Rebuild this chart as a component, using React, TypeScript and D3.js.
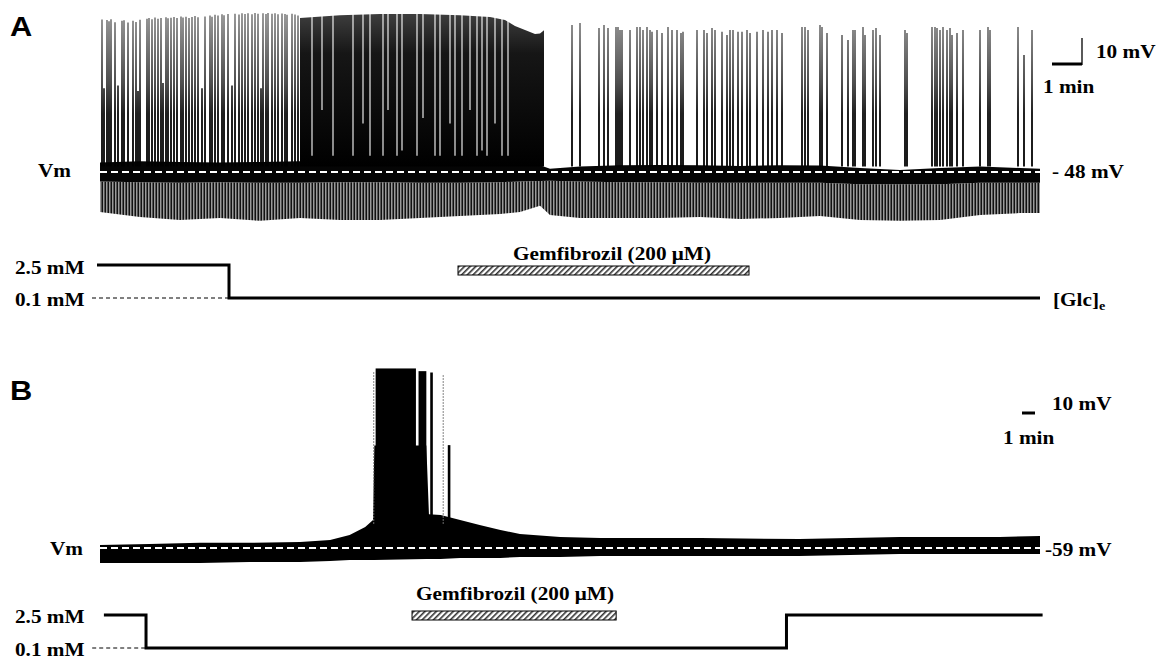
import React, { useEffect, useRef } from "react";
import * as d3 from "d3";

// ---------- panel A (time in s, membrane potential in mV) ----------
const envTimesA = [0, 80, 160, 240, 320, 400, 480, 560, 640, 720, 800, 840, 880, 900, 960, 1040, 1120, 1200, 1280, 1360, 1440, 1520, 1600, 1680, 1760, 1840, 1880];
const bandTopA = [-44.5, -44.0, -44.3, -44.5, -44.3, -44.0, -44.0, -44.0, -44.3, -44.5, -44.5, -45.0, -45.5, -46.8, -46.0, -45.5, -45.4, -45.5, -45.8, -45.5, -45.6, -46.5, -47.3, -46.5, -46.0, -46.5, -46.8];
const bandBottomA = [-51.5, -51.8, -52.0, -51.8, -52.0, -52.0, -51.8, -51.8, -52.0, -52.0, -51.8, -51.5, -51.3, -51.2, -51.5, -51.8, -51.8, -52.0, -52.0, -52.0, -52.0, -52.5, -52.5, -52.5, -52.0, -52.0, -52.0];
const lowerA = [-62.8, -64.7, -65.8, -65.0, -66.1, -65.0, -65.8, -65.8, -65.0, -64.3, -63.6, -62.8, -60.5, -63.9, -65.0, -65.0, -65.0, -64.7, -65.4, -65.0, -64.3, -65.8, -66.1, -65.8, -63.9, -63.2, -63.2];

// [time s, peak mV]
const spikesA: [number, number][] = [
  [4, 8.5], [8, -17], [14, 8.3], [18, 7.8], [22, 8.6], [30, 7.5], [36, -16], [44, 8.0], [48, 8.2], [56, 7.4],
  [66, 8.0], [72, 7.6], [76, -18], [80, 8.4], [94, 8.8], [98, 9.0], [104, 8.6], [110, 9.2], [116, 8.8], [122, 9.0],
  [126, -15], [132, 9.3], [136, 8.9], [142, 9.1], [148, 9.4], [154, 9.0], [162, 9.6], [166, 9.2], [172, 9.5], [178, 9.0],
  [184, 9.4], [190, 9.8], [196, 9.3], [204, -17], [210, 9.6], [220, 10.0], [224, 9.5], [230, 10.2], [236, 10.0], [244, 10.4],
  [248, 10.1], [256, 10.5], [264, -16], [270, 10.6], [278, 10.3], [284, 10.8], [290, 10.5], [296, 10.8], [304, 10.4], [310, 10.9],
  [316, 10.6], [322, -17], [326, 10.8], [332, 10.5], [336, 10.9], [344, 10.6], [350, 10.8], [356, 10.4], [364, 10.7], [370, 10.5],
  [374, 10.2], [384, 10.6], [390, 10.3], [396, 10.0],
  [944, 6.4], [960, 7.2], [998, 5.3], [1008, 6.4], [1016, 5.3], [1032, 5.7], [1036, 5.7], [1040, 4.6], [1044, 4.6], [1060, 4.6],
  [1074, 5.7], [1080, 5.7], [1086, 4.6], [1094, 5.7], [1100, 4.6], [1104, 3.9], [1114, 4.6], [1124, 3.5], [1136, 5.7], [1144, 4.6],
  [1154, 4.6], [1162, 3.5], [1166, 3.9], [1194, 4.6], [1208, 4.6], [1214, 3.5], [1224, 5.3], [1230, 4.6], [1244, 3.9], [1254, 2.7],
  [1260, 4.6], [1266, 4.6], [1276, 3.9], [1284, 3.9], [1294, 4.6], [1300, 3.5], [1314, 3.9], [1326, 4.6], [1336, 3.9], [1344, 4.6],
  [1354, 4.6], [1364, 3.5], [1404, 5.7], [1410, 5.7], [1416, 4.6], [1440, 6.4], [1444, 5.7], [1454, 3.5], [1484, 2.7], [1496, 0.9],
  [1506, 4.6], [1510, 4.6], [1526, 5.7], [1530, 2.7], [1546, 4.6], [1552, 5.3], [1560, 2.7], [1610, 4.6], [1614, 3.5], [1664, 5.7],
  [1670, 5.7], [1674, 5.3], [1680, 4.6], [1686, 5.7], [1694, 4.6], [1700, 5.3], [1704, 2.7], [1714, 3.5], [1726, 4.6], [1760, 4.6],
  [1776, 5.7], [1780, 4.6], [1836, 5.7], [1848, -4.7], [1864, 4.6],
];

// sustained high-frequency firing: upper envelope
const burstTimesA = [400, 480, 560, 640, 720, 780, 810, 830, 850, 870, 880, 888];
const burstTopA = [9.0, 10.1, 10.5, 10.5, 10.1, 9.4, 8.3, 6.1, 4.6, 3.1, 3.3, 4.5];
// short pauses inside the firing: [time s, lowest mV reached by the gap]
const pausesA: [number, number][] = [
  [424, -42], [444, -25], [466, -42], [506, -42], [526, -30], [540, -42], [566, -42], [576, -25], [594, -42], [604, -40],
  [634, -42], [646, -28], [670, -42], [680, -42], [700, -30], [710, -42], [724, -42], [740, -25], [754, -42], [764, -40],
  [774, -42], [790, -30], [804, -42], [816, -42],
];

const glcA: [number, number][] = [[-6, 2.5], [258, 0.1], [1880, 0.1]];
const gemA = [716, 1298];

// ---------- panel B (time in min) ----------
const envTimesB = [0, 3.8, 7.7, 11.5, 15.4, 17.7, 19.2, 20.4, 21.0, 21.1, 25.1, 25.3, 26.2, 27.7, 29.2, 30.8, 32.3, 35.4, 38.5, 46.2, 53.8, 57.7, 61.5, 69.2, 72.3];
const bandTopB = [-57.9, -57.5, -57.1, -57.1, -56.8, -56.0, -54.2, -51.2, -48.6, -21, -21, -46.5, -46.8, -48.6, -50.5, -52.3, -53.8, -54.9, -55.3, -55.3, -55.7, -55.3, -54.9, -54.9, -54.6];
const bandBottomB = [-64.6, -64.6, -64.6, -64.2, -64.2, -63.8, -63.4, -63.4, -63.4, -63.4, -63.1, -63.1, -63.1, -62.7, -62.7, -62.7, -62.3, -62.3, -62.0, -62.0, -62.0, -61.6, -61.2, -61.2, -61.2];
// [start min, end min, peak mV]
const burstsB: [number, number, number][] = [[21.2, 24.3, 7.5], [24.5, 25.1, 6.5], [25.4, 25.6, 6.0], [26.75, 26.95, -20.9]];
const faintSpikesB: [number, number][] = [[21.05, 6.2], [26.4, 5.5]];
const glcB: [number, number][] = [[0.3, 2.5], [3.54, 0.1], [52.8, 2.5], [72.5, 2.5]];
const gemB = [24.0, 39.7];

const SERIF = "'Liberation Serif', 'Times New Roman', serif";
const SANS = "'Liberation Sans', Arial, sans-serif";

export default function App() {
  const ref = useRef<SVGSVGElement>(null);

  useEffect(() => {
    draw();
  }, []);

  function draw() {
    const svg = d3.select(ref.current);
    svg.selectAll("*").remove();

    const xA = d3.scaleLinear().domain([0, 1880]).range([100, 1040]);
    const yA = d3.scaleLinear().domain([-48, -38]).range([172, 145]);
    const cA = d3.scaleLinear().domain([0.1, 2.5]).range([298, 265]);

    const defs = svg.append("defs");
    const hatch = defs
      .append("pattern")
      .attr("id", "hatch")
      .attr("patternUnits", "userSpaceOnUse")
      .attr("width", 4)
      .attr("height", 4)
      .attr("patternTransform", "rotate(45)");
    hatch.append("rect").attr("width", 4).attr("height", 4).attr("fill", "#fff");
    hatch.append("rect").attr("width", 1.6).attr("height", 4).attr("fill", "#333");

    const stripes = defs
      .append("pattern")
      .attr("id", "stripes")
      .attr("patternUnits", "userSpaceOnUse")
      .attr("width", 3)
      .attr("height", 6);
    stripes.append("rect").attr("x", 0).attr("width", 1).attr("height", 6).attr("fill", "#111");
    stripes.append("rect").attr("x", 1).attr("width", 1).attr("height", 6).attr("fill", "#9a9a9a");
    stripes.append("rect").attr("x", 2).attr("width", 1).attr("height", 6).attr("fill", "#555");

    // spikes look grey near their tips and solid black towards the baseline
    const grad = defs
      .append("linearGradient")
      .attr("id", "spikeGrad")
      .attr("gradientUnits", "userSpaceOnUse")
      .attr("x1", 0).attr("x2", 0)
      .attr("y1", yA(10)).attr("y2", yA(-46));
    grad.append("stop").attr("offset", "0%").attr("stop-color", "#8c8c8c");
    grad.append("stop").attr("offset", "45%").attr("stop-color", "#3a3a3a");
    grad.append("stop").attr("offset", "65%").attr("stop-color", "#080808");
    grad.append("stop").attr("offset", "100%").attr("stop-color", "#000");

    const gradBurst = defs
      .append("linearGradient")
      .attr("id", "burstGrad")
      .attr("gradientUnits", "userSpaceOnUse")
      .attr("x1", 0).attr("x2", 0)
      .attr("y1", yA(10)).attr("y2", yA(-46));
    gradBurst.append("stop").attr("offset", "0%").attr("stop-color", "#3c3c3c");
    gradBurst.append("stop").attr("offset", "25%").attr("stop-color", "#161616");
    gradBurst.append("stop").attr("offset", "100%").attr("stop-color", "#000");

    const text = (x: number, y: number, str: string, size = 18, anchor = "start", family = SERIF, sx = 1.18) =>
      svg
        .append("text")
        .attr("transform", `translate(${x},${y}) scale(${sx},1)`)
        .attr("font-family", family)
        .attr("font-weight", "bold")
        .attr("font-size", size)
        .attr("text-anchor", anchor)
        .attr("fill", "#000")
        .text(str);

    // ===== Panel A =====
    const gA = svg.append("g");
    const idxA = d3.range(envTimesA.length);

    gA.append("path")
      .attr("fill", "url(#stripes)")
      .attr(
        "d",
        d3.area<number>()
          .x((i) => xA(envTimesA[i]))
          .y0((i) => yA(bandBottomA[i]))
          .y1((i) => yA(lowerA[i]))(idxA)
      );
    gA.append("path")
      .attr("fill", "#050505")
      .attr(
        "d",
        d3.area<number>()
          .x((i) => xA(envTimesA[i]))
          .y0((i) => yA(bandBottomA[i]))
          .y1((i) => yA(bandTopA[i]))(idxA)
      );
    gA.append("path")
      .attr("fill", "url(#burstGrad)")
      .attr(
        "d",
        d3.area<number>()
          .x((i) => xA(burstTimesA[i]))
          .y0(yA(-46))
          .y1((i) => yA(burstTopA[i]))(d3.range(burstTimesA.length))
      );

    gA.append("g")
      .selectAll("line")
      .data(spikesA)
      .join("line")
      .attr("x1", (d) => xA(d[0]))
      .attr("x2", (d) => xA(d[0]))
      .attr("y1", yA(-46))
      .attr("y2", (d) => yA(d[1]))
      .attr("stroke", "url(#spikeGrad)")
      .attr("stroke-width", 1.8);

    gA.append("g")
      .selectAll("line")
      .data(pausesA)
      .join("line")
      .attr("x1", (d) => xA(d[0]))
      .attr("x2", (d) => xA(d[0]))
      .attr("y1", yA(12))
      .attr("y2", (d) => yA(d[1]))
      .attr("stroke", "#fff")
      .attr("stroke-width", 1.1);

    gA.append("line")
      .attr("x1", xA(0)).attr("x2", xA(1880))
      .attr("y1", yA(-48)).attr("y2", yA(-48))
      .attr("stroke", "#fff").attr("stroke-width", 2).attr("stroke-dasharray", "7,4");

    // scale bar A
    const barLenA = xA(60) - xA(0);
    const mv10A = yA(-48) - yA(-38);
    svg.append("line").attr("x1", 1052).attr("x2", 1052 + barLenA).attr("y1", 64).attr("y2", 64)
      .attr("stroke", "#000").attr("stroke-width", 3);
    svg.append("line").attr("x1", 1052 + barLenA).attr("x2", 1052 + barLenA).attr("y1", 65).attr("y2", 65 - mv10A)
      .attr("stroke", "#000").attr("stroke-width", 1.3);

    // glucose A
    gA.append("path")
      .attr("fill", "none").attr("stroke", "#000").attr("stroke-width", 3)
      .attr("d", d3.line<[number, number]>().x((d) => xA(d[0])).y((d) => cA(d[1])).curve(d3.curveStepAfter)(glcA));
    gA.append("line")
      .attr("x1", xA(-16)).attr("x2", xA(glcA[1][0]))
      .attr("y1", cA(0.1)).attr("y2", cA(0.1))
      .attr("stroke", "#000").attr("stroke-width", 1).attr("stroke-dasharray", "4,3");
    gA.append("rect")
      .attr("x", xA(gemA[0])).attr("width", xA(gemA[1]) - xA(gemA[0]))
      .attr("y", 266).attr("height", 9)
      .attr("fill", "url(#hatch)").attr("stroke", "#000").attr("stroke-width", 1);

    text(10, 36, "A", 28, "start", SANS, 1.1);
    text(38, 177, "Vm");
    text(1052, 178, "- 48 mV");
    text(1096, 58, "10 mV");
    text(1043, 93, "1 min");
    text(15, 274, "2.5 mM");
    text(15, 306, "0.1 mM");
    text(612, 260, "Gemfibrozil (200 \u03bcM)", 18, "middle");
    const glc = text(1053, 306, "[Glc]");
    glc.append("tspan").attr("font-size", 12).attr("dy", 4).text("e");

    // ===== Panel B =====
    const xB = d3.scaleLinear().domain([0, 72.3]).range([100, 1040]);
    const yB = d3.scaleLinear().domain([-59, -49]).range([548, 521]);
    const cB = d3.scaleLinear().domain([0.1, 2.5]).range([648, 615]);
    const gB = svg.append("g");

    gB.append("path")
      .attr("fill", "#000")
      .attr(
        "d",
        d3.area<number>()
          .x((i) => xB(envTimesB[i]))
          .y0((i) => yB(bandBottomB[i]))
          .y1((i) => yB(bandTopB[i]))(d3.range(envTimesB.length))
      );
    gB.append("g")
      .selectAll("rect")
      .data(burstsB)
      .join("rect")
      .attr("x", (d) => xB(d[0]))
      .attr("width", (d) => xB(d[1]) - xB(d[0]))
      .attr("y", (d) => yB(d[2]))
      .attr("height", (d) => yB(-50) - yB(d[2]))
      .attr("fill", "#000");
    gB.append("g")
      .selectAll("line")
      .data(faintSpikesB)
      .join("line")
      .attr("x1", (d) => xB(d[0]))
      .attr("x2", (d) => xB(d[0]))
      .attr("y1", yB(-50))
      .attr("y2", (d) => yB(d[1]))
      .attr("stroke", "#777")
      .attr("stroke-width", 1.2)
      .attr("stroke-dasharray", "1.5,1.5");
    gB.append("line")
      .attr("x1", xB(0)).attr("x2", xB(72.3))
      .attr("y1", yB(-59)).attr("y2", yB(-59))
      .attr("stroke", "#fff").attr("stroke-width", 2).attr("stroke-dasharray", "7,4");

    const barLenB = xB(1) - xB(0);
    svg.append("line").attr("x1", 1022).attr("x2", 1022 + barLenB).attr("y1", 413).attr("y2", 413)
      .attr("stroke", "#000").attr("stroke-width", 3);

    gB.append("path")
      .attr("fill", "none").attr("stroke", "#000").attr("stroke-width", 3)
      .attr("d", d3.line<[number, number]>().x((d) => xB(d[0])).y((d) => cB(d[1])).curve(d3.curveStepAfter)(glcB));
    gB.append("line")
      .attr("x1", xB(-0.6)).attr("x2", xB(glcB[1][0]))
      .attr("y1", cB(0.1)).attr("y2", cB(0.1))
      .attr("stroke", "#000").attr("stroke-width", 1).attr("stroke-dasharray", "4,3");
    gB.append("rect")
      .attr("x", xB(gemB[0])).attr("width", xB(gemB[1]) - xB(gemB[0]))
      .attr("y", 611).attr("height", 9)
      .attr("fill", "url(#hatch)").attr("stroke", "#000").attr("stroke-width", 1);

    text(10, 400, "B", 28, "start", SANS, 1.1);
    text(50, 555, "Vm");
    text(1045, 556, "-59 mV");
    text(1052, 410, "10 mV");
    text(1003, 444, "1 min");
    text(15, 623, "2.5 mM");
    text(15, 656, "0.1 mM");
    text(515, 600, "Gemfibrozil (200 \u03bcM)", 18, "middle");
  }

  return (
    <svg
      ref={ref}
      width={1164}
      height={659}
      style={{ position: "absolute", left: 0, top: 0, background: "#fff" }}
    />
  );
}
